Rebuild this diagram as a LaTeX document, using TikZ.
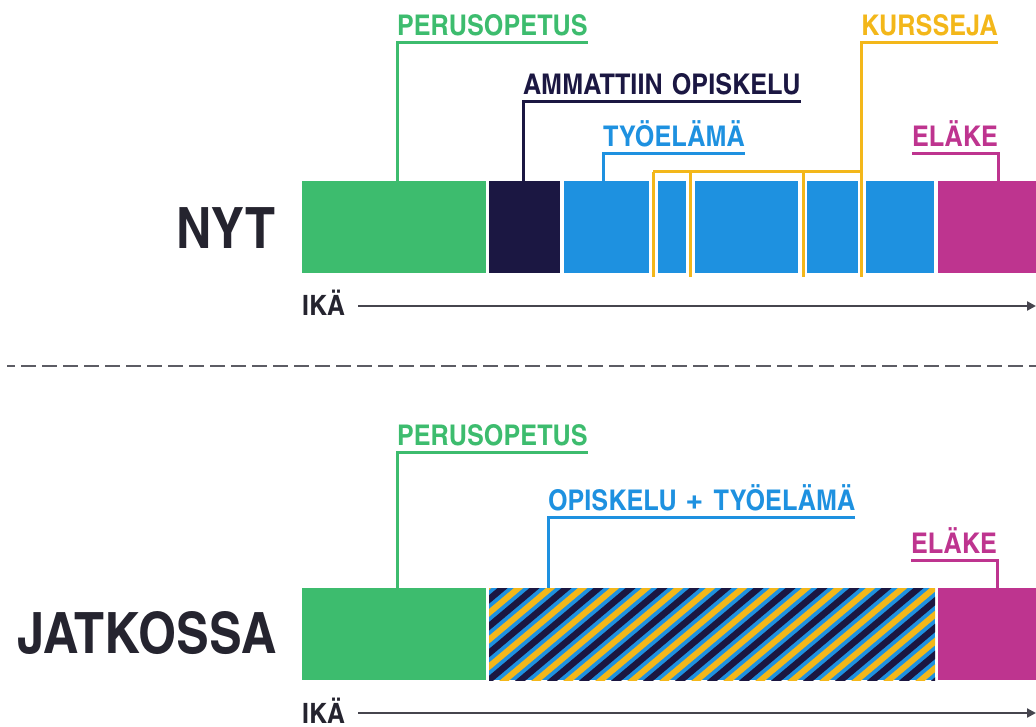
\documentclass[tikz,border=0pt]{standalone}
\usepackage{fontspec}
\setmainfont{texgyreheroscn-bold.otf}
\newfontfamily\lblfont{texgyreheroscn-bold.otf}[FakeStretch=1.08,WordSpace=1.3]
\newfontfamily\bigfont{texgyreheroscn-bold.otf}[FakeStretch=1.05]
\usetikzlibrary{arrows.meta,calc}
\definecolor{cgreen}{HTML}{3DBC6E}
\definecolor{cnavy}{HTML}{1B1742}
\definecolor{cblue}{HTML}{1E91E0}
\definecolor{cyellow}{HTML}{F3B71A}
\definecolor{cmag}{HTML}{BE348F}
\definecolor{cdark}{HTML}{25242F}
\definecolor{cgray}{HTML}{5C5C64}
\begin{document}
\begin{tikzpicture}[x=1pt,y=1pt,
  bar/.style={draw=none, inner sep=0pt, outer sep=0pt, anchor=north west, minimum height=92pt},
  lbl/.style={anchor=south west, inner xsep=0pt, inner ysep=7pt, outer sep=0pt, text depth=0pt,
              font=\lblfont\fontsize{28.5}{30}\selectfont},
  big/.style={anchor=base east, inner sep=0pt, text=cdark, font=\bigfont\fontsize{57}{60}\selectfont},
  ika/.style={anchor=base west, inner sep=0pt, text=cdark, font=\lblfont\fontsize{28}{30}\selectfont},
  lead/.style={line width=3pt, line join=miter},
  axis/.style={line width=2.2pt, draw=cdark!85!white, -{Triangle[length=9pt,width=9pt]}},
  sep/.style={line width=2.2pt, draw=cgray, dash pattern=on 15pt off 6pt, dash phase=7pt}
]
\useasboundingbox (0,0) rectangle (1036,-727);

% ---------- NYT row ----------
\node[bar, fill=cgreen, minimum width=184pt] (g1) at (302,-181) {};
\node[bar, fill=cnavy,  minimum width=71pt]  (n1) at (489,-181) {};
\node[bar, fill=cblue,  minimum width=85pt]  (b1) at (564,-181) {};
\node[bar, fill=cblue,  minimum width=28pt]  (b2) at (658,-181) {};
\node[bar, fill=cblue,  minimum width=103pt] (b3) at (695,-181) {};
\node[bar, fill=cblue,  minimum width=51pt]  (b4) at (807,-181) {};
\node[bar, fill=cblue,  minimum width=68pt]  (b5) at (866,-181) {};
\node[bar, fill=cmag,   minimum width=98pt]  (m1) at (938,-181) {};

\node[big] (nyt) at (276,-249) {NYT};

\node[lbl, text=cgreen] (lp1) at (397,-43) {PERUSOPETUS};
\draw[lead, cgreen] (lp1.south east) -- (lp1.south west) -- (lp1.south west |- g1.north);

\node[lbl, text=cnavy] (lam) at (523,-102) {AMMATTIIN OPISKELU};
\draw[lead, cnavy] (lam.south east) -- (lam.south west) -- (lam.south west |- n1.north);

\node[lbl, text=cblue] (lty) at (603,-154) {TYÖELÄMÄ};
\draw[lead, cblue] (lty.south east) -- (lty.south west) -- (lty.south west |- b1.north);

\node[lbl, text=cmag] (lel) at (912,-154) {ELÄKE};
\draw[lead, cmag] (lel.south west) -- (lel.south east) -- (lel.south east |- m1.north);

\node[lbl, text=cyellow] (lku) at (861,-43) {KURSSEJA};
\coordinate (kh) at (653,-172);
\draw[lead, cyellow] (lku.south east) -- (lku.south west) -- (lku.south west |- kh) -- (kh);
\foreach \x/\n in {653/1,690/2,803/3,861/4} {
  \coordinate (kt\n) at (\x,-172);
  \coordinate (kb\n) at (\x,-277);
  \draw[lead, cyellow] (kt\n) -- (kb\n);
}

\node[ika] (ika1) at (302,-316) {IKÄ};
\coordinate (ae1) at (1036,-306);
\draw[axis] ([xshift=13pt]ika1.east |- ae1) -- (ae1);

% ---------- separator ----------
\coordinate (s1) at (7,-366);
\coordinate (s2) at (1036,-366);
\draw[sep] (s1) -- (s2);

% ---------- JATKOSSA row ----------
\node[bar, fill=cgreen, minimum width=184pt] (g2) at (302,-588) {};
\node[bar, fill=cblue,  minimum width=446pt] (hb) at (489,-588) {};
\node[bar, fill=cmag,   minimum width=98pt]  (m2) at (938,-588) {};
\begin{scope}
  \clip (hb.south west) rectangle (hb.north east);
  \foreach \i in {-5,...,15} {
    \draw[cnavy, line width=6.5pt] ($(hb.south west)+(\i*32,0)+(220:20)$) -- ++(40:190);
    \draw[cyellow, line width=6pt] ($(hb.south west)+(\i*32+16,0)+(220:20)$) -- ++(40:190);
  }
\end{scope}

\node[big] (jat) at (277,-653) {JATKOSSA};

\node[lbl, text=cgreen] (lp2) at (397,-452) {PERUSOPETUS};
\draw[lead, cgreen] (lp2.south east) -- (lp2.south west) -- (lp2.south west |- g2.north);

\node[lbl, text=cblue] (lot) at (548,-517) {OPISKELU \raisebox{-1.5pt}{\fontsize{36}{36}\selectfont +} TYÖELÄMÄ};
\draw[lead, cblue] (lot.south east) -- (lot.south west) -- (lot.south west |- hb.north);

\node[lbl, text=cmag] (lel2) at (911,-560) {ELÄKE};
\draw[lead, cmag] (lel2.south west) -- (lel2.south east) -- (lel2.south east |- m2.north);

\node[ika] (ika2) at (302,-723) {IKÄ};
\coordinate (ae2) at (1036,-713);
\draw[axis] ([xshift=13pt]ika2.east |- ae2) -- (ae2);
\end{tikzpicture}
\end{document}
